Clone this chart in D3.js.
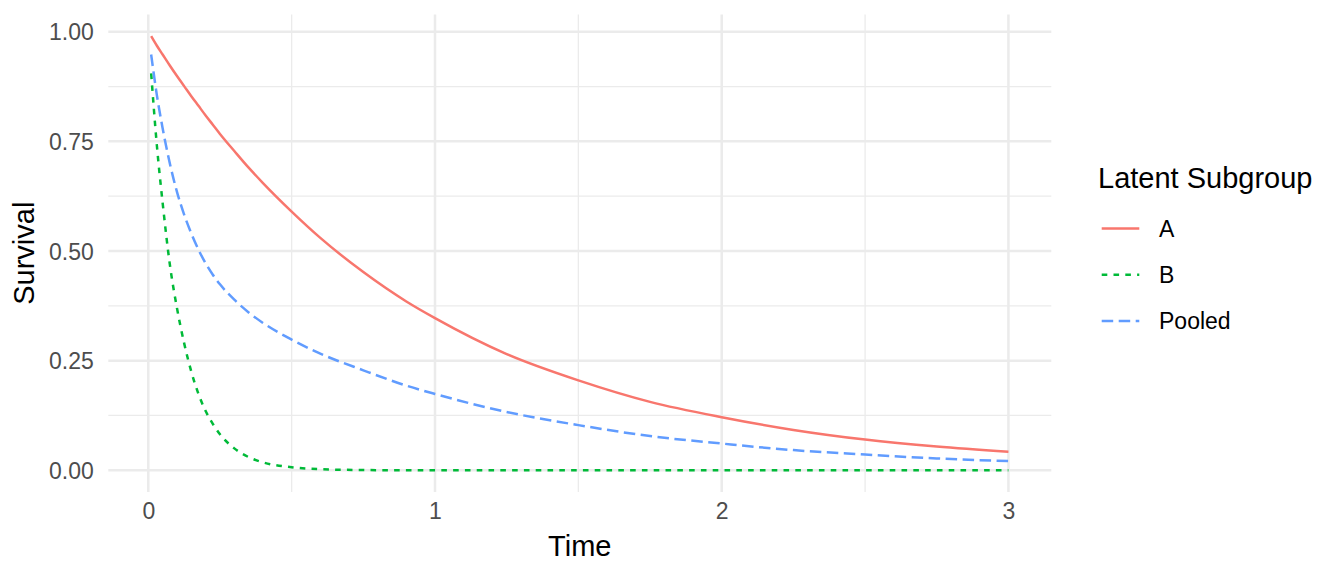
<!DOCTYPE html>
<html>
<head>
<meta charset="utf-8">
<script src="https://cdn.jsdelivr.net/npm/d3@7"></script>
<style>
    body { margin: 0; background: #fff; }
    text { font-family: 'Liberation Sans', Arial, Helvetica, sans-serif; }
</style>
</head>
<body>
<svg id="chart"></svg>
<script>
// values
const times = [0.01, 0.03, 0.05, 0.075, 0.1, 0.125, 0.15, 0.175, 0.2, 0.225, 0.25, 0.3, 0.35,
    0.4, 0.5, 0.6, 0.75, 0.9, 1, 1.25, 1.5, 1.75, 2, 2.25, 2.5, 2.75, 3];
const survivalA = [0.99, 0.968, 0.948, 0.923, 0.899, 0.876, 0.853, 0.831, 0.809, 0.788, 0.767,
    0.728, 0.69, 0.655, 0.59, 0.53, 0.452, 0.385, 0.347, 0.265, 0.205, 0.156, 0.121, 0.092,
    0.07, 0.054, 0.042];
const survivalB = [0.905, 0.74, 0.61, 0.47, 0.37, 0.29, 0.225, 0.174, 0.135, 0.106, 0.082,
    0.05, 0.03, 0.018, 0.007, 0.0025, 0.0006, 0.0001, 0, 0, 0, 0, 0, 0, 0, 0, 0];
const survivalPooled = [0.948, 0.855, 0.78, 0.7, 0.635, 0.583, 0.54, 0.503, 0.472, 0.446,
    0.424, 0.389, 0.36, 0.336, 0.298, 0.266, 0.228, 0.193, 0.174, 0.133, 0.103, 0.078, 0.061,
    0.046, 0.036, 0.027, 0.021];
const groups = ['A', 'B', 'Pooled'];
const xTicks = [0, 1, 2, 3];
const xMinor = [0.5, 1.5, 2.5];
const yTicks = [0, 0.25, 0.5, 0.75, 1];
const yMinor = [0.125, 0.375, 0.625, 0.875];

const width = 1344;
const height = 576;
const panel = { left: 108.3, right: 1051.3, top: 14.4, bottom: 492 };

const colors = { A: '#F8766D', B: '#00BA38', Pooled: '#619CFF' };
const dashes = { A: null, B: '5.6,6.2', Pooled: '11.5,5.5' };
const lineW = 2.5;

const series = groups.map(g => ({
    name: g,
    values: times.map((t, i) => ({
        t: t,
        s: (g === 'A' ? survivalA : g === 'B' ? survivalB : survivalPooled)[i],
    })),
}));

// ggplot style 5% expansion
function expand(ext) {
    const d = (ext[1] - ext[0]) * 0.05;
    return [ext[0] - d, ext[1] + d];
}
const allS = survivalA.concat(survivalB, survivalPooled);

const x = d3.scaleLinear()
    .domain(expand(d3.extent(times)))
    .range([panel.left, panel.right]);
const y = d3.scaleLinear()
    .domain(expand(d3.extent(allS)))
    .range([panel.bottom, panel.top]);

const svg = d3.select('#chart')
    .attr('width', width)
    .attr('height', height)
    .style('background-color', 'white');

const grid = svg.append('g');
grid.selectAll('line.ymin')
    .data(yMinor)
    .join('line')
    .attr('x1', panel.left).attr('x2', panel.right)
    .attr('y1', d => y(d)).attr('y2', d => y(d))
    .attr('stroke', '#ebebeb').attr('stroke-width', 1.3);
grid.selectAll('line.xmin')
    .data(xMinor)
    .join('line')
    .attr('y1', panel.top).attr('y2', panel.bottom)
    .attr('x1', d => x(d)).attr('x2', d => x(d))
    .attr('stroke', '#ebebeb').attr('stroke-width', 1.3);

const major = svg.append('g');
major.selectAll('line.ymaj')
    .data(yTicks)
    .join('line')
    .attr('x1', panel.left).attr('x2', panel.right)
    .attr('y1', d => y(d)).attr('y2', d => y(d))
    .attr('stroke', '#ebebeb').attr('stroke-width', 2.5);
major.selectAll('line.xmaj')
    .data(xTicks)
    .join('line')
    .attr('y1', panel.top).attr('y2', panel.bottom)
    .attr('x1', d => x(d)).attr('x2', d => x(d))
    .attr('stroke', '#ebebeb').attr('stroke-width', 2.5);

// axes (text only, like theme_minimal)
const yAxis = d3.axisLeft(y).tickValues(yTicks).tickFormat(d3.format('.2f')).tickSize(0).tickPadding(14.5);
const xAxis = d3.axisBottom(x).tickValues(xTicks).tickFormat(d3.format('d')).tickSize(0).tickPadding(11);

const gy = svg.append('g')
    .attr('transform', `translate(${panel.left},0)`)
    .call(yAxis);
const gx = svg.append('g')
    .attr('transform', `translate(0,${panel.bottom})`)
    .call(xAxis);
[gx, gy].forEach(g => {
    g.select('.domain').remove();
    g.selectAll('text')
        .attr('fill', '#4d4d4d')
        .style('font-size', '23px')
        .style('font-family', "'Liberation Sans', Arial, sans-serif");
});
gy.selectAll('text').attr('dy', '0.35em');

const line = d3.line()
    .x(d => x(d.t))
    .y(d => y(d.s))
    .curve(d3.curveMonotoneX);

svg.append('g')
    .selectAll('path')
    .data(series)
    .join('path')
    .attr('d', d => line(d.values))
    .attr('fill', 'none')
    .attr('stroke', d => colors[d.name])
    .attr('stroke-width', lineW)
    .attr('stroke-dasharray', d => dashes[d.name]);

// axis titles
svg.append('text')
    .attr('x', (panel.left + panel.right) / 2)
    .attr('y', 556)
    .attr('text-anchor', 'middle')
    .style('font-size', '29px')
    .attr('fill', 'black')
    .text('Time');
svg.append('text')
    .attr('transform', `translate(24,${(panel.top + panel.bottom) / 2}) rotate(-90)`)
    .attr('text-anchor', 'middle')
    .attr('dy', '0.35em')
    .style('font-size', '29px')
    .attr('fill', 'black')
    .text('Survival');

// legend
const legend = svg.append('g').attr('transform', 'translate(1098,0)');
legend.append('text')
    .attr('x', 0)
    .attr('y', 188)
    .style('font-size', '29px')
    .attr('fill', 'black')
    .text('Latent Subgroup');

const keyY = d3.scalePoint().domain(groups).range([228.5, 321]);
const keys = legend.selectAll('g.key')
    .data(groups)
    .join('g')
    .attr('transform', d => `translate(0,${keyY(d)})`);
keys.append('line')
    .attr('x1', 3.7).attr('x2', 41.3)
    .attr('stroke', d => colors[d])
    .attr('stroke-width', lineW)
    .attr('stroke-dasharray', d => dashes[d]);
keys.append('text')
    .attr('x', 61)
    .attr('dy', '0.35em')
    .style('font-size', '23px')
    .attr('fill', 'black')
    .text(d => d);
</script>
</body>
</html>
